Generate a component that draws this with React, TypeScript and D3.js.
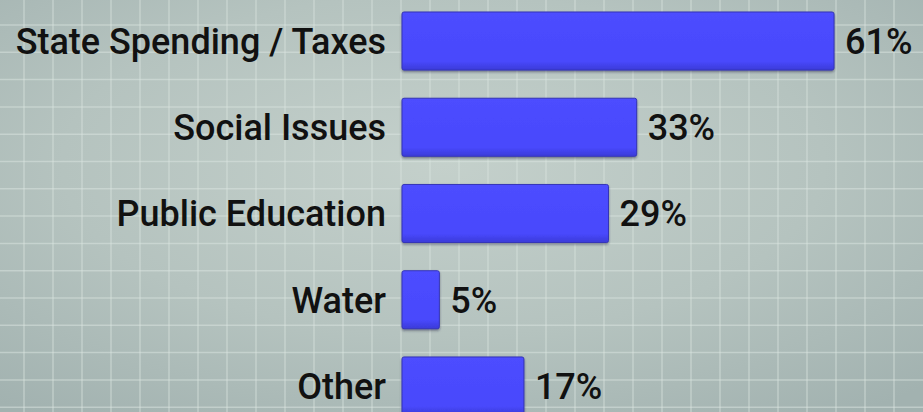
import React, { useEffect, useRef } from 'react';
import * as d3 from 'd3';

const categories = [
  'State Spending / Taxes',
  'Social Issues',
  'Public Education',
  'Water',
  'Other',
];
const percents = [61, 33, 29, 5, 17];

const WIDTH = 923;
const HEIGHT = 412;
const FONT = 'Roboto, "Liberation Sans", Arial, sans-serif';

const App: React.FC = () => {
  const containerRef = useRef<HTMLDivElement>(null);

  useEffect(() => {
    if (containerRef.current) {
      drawChart(containerRef.current);
    }
  }, []);

  return (
    <div
      ref={containerRef}
      style={{ position: 'absolute', left: 0, top: 0, width: WIDTH, height: HEIGHT }}
    ></div>
  );
};

const drawChart = (container: HTMLDivElement) => {
  d3.select(container).select('svg').remove();

  const svg = d3
    .select(container)
    .append('svg')
    .attr('width', WIDTH)
    .attr('height', HEIGHT)
    .style('display', 'block');

  const defs = svg.append('defs');

  const bg = defs
    .append('radialGradient')
    .attr('id', 'bg')
    .attr('cx', '0.48')
    .attr('cy', '0.4')
    .attr('r', '0.75');
  bg.append('stop').attr('offset', '0%').attr('stop-color', '#c4d0cb');
  bg.append('stop').attr('offset', '55%').attr('stop-color', '#b5c3bf');
  bg.append('stop').attr('offset', '100%').attr('stop-color', '#a2b2b0');

  const barGrad = defs
    .append('linearGradient')
    .attr('id', 'bar')
    .attr('x1', 0)
    .attr('y1', 0)
    .attr('x2', 0)
    .attr('y2', 1);
  barGrad.append('stop').attr('offset', '0%').attr('stop-color', '#4d4dff');
  barGrad.append('stop').attr('offset', '85%').attr('stop-color', '#4848fc');
  barGrad.append('stop').attr('offset', '100%').attr('stop-color', '#3b3bd8');

  const shadow = defs
    .append('filter')
    .attr('id', 'shadow')
    .attr('x', '-5%')
    .attr('y', '-10%')
    .attr('width', '110%')
    .attr('height', '130%');
  shadow
    .append('feDropShadow')
    .attr('dx', 0)
    .attr('dy', 1.5)
    .attr('stdDeviation', 1)
    .attr('flood-color', '#1a1a40')
    .attr('flood-opacity', 0.5);

  svg.append('rect').attr('width', WIDTH).attr('height', HEIGHT).attr('fill', 'url(#bg)');

  // background grid
  const grid = svg
    .append('g')
    .attr('stroke', '#dbe5e1')
    .attr('stroke-opacity', 0.5)
    .attr('stroke-width', 1.5);
  grid
    .selectAll('line.v')
    .data(d3.range(24, WIDTH, 29))
    .enter()
    .append('line')
    .attr('x1', (d) => d)
    .attr('x2', (d) => d)
    .attr('y1', 0)
    .attr('y2', HEIGHT);
  grid
    .selectAll('line.h')
    .data(d3.range(25, HEIGHT, 27.3))
    .enter()
    .append('line')
    .attr('y1', (d) => d)
    .attr('y2', (d) => d)
    .attr('x1', 0)
    .attr('x2', WIDTH);

  const xScale = d3.scaleLinear().domain([-0.3, 61]).range([402, 834]);
  const yScale = d3
    .scaleBand<string>()
    .domain(categories)
    .range([12, 415])
    .paddingInner(0.327)
    .paddingOuter(0);

  const data = categories.map((c, i) => ({ category: c, value: percents[i] }));

  svg
    .append('g')
    .selectAll('rect')
    .data(data)
    .enter()
    .append('rect')
    .attr('x', xScale(-0.3))
    .attr('y', (d) => yScale(d.category) || 0)
    .attr('width', (d) => xScale(d.value) - xScale(-0.3))
    .attr('height', yScale.bandwidth())
    .attr('rx', 2)
    .attr('fill', 'url(#bar)')
    .attr('stroke', '#3434b8')
    .attr('stroke-width', 1)
    .attr('filter', 'url(#shadow)');

  // size the type so the longest label spans the same width as in the source
  const probe = svg
    .append('text')
    .style('font-family', FONT)
    .style('font-weight', '500')
    .style('font-size', '100px')
    .text(categories[0]);
  const w100 = (probe.node() as SVGTextElement).getComputedTextLength() || 1100;
  probe.remove();
  const fontSize = Math.min(36, (376 / w100) * 100);
  const capOffset = fontSize * 0.355;

  svg
    .append('g')
    .selectAll('text')
    .data(data)
    .enter()
    .append('text')
    .attr('x', 386)
    .attr('y', (d) => (yScale(d.category) || 0) + yScale.bandwidth() / 2 + capOffset)
    .attr('text-anchor', 'end')
    .attr('fill', '#111')
    .style('font-family', FONT)
    .style('font-weight', '500')
    .style('font-size', `${fontSize}px`)
    .text((d) => d.category);

  svg
    .append('g')
    .selectAll('text')
    .data(data)
    .enter()
    .append('text')
    .attr('x', (d) => xScale(d.value) + 11)
    .attr('y', (d) => (yScale(d.category) || 0) + yScale.bandwidth() / 2 + capOffset)
    .attr('fill', '#111')
    .style('font-family', FONT)
    .style('font-weight', '500')
    .style('font-size', `${fontSize}px`)
    .text((d) => `${d.value}%`);
};

export default App;
